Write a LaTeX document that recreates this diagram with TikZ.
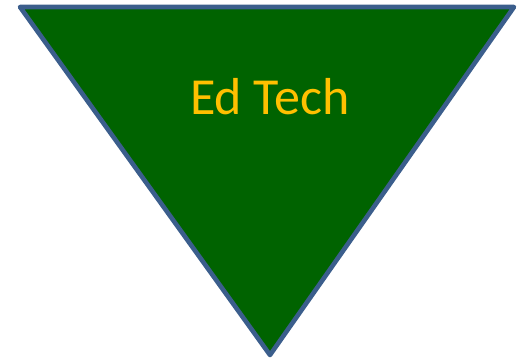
\documentclass[tikz,border=0pt]{standalone}
\usepackage{fontspec}
\setmainfont{Carlito}
\definecolor{tribg}{RGB}{0,99,0}
\definecolor{triedge}{RGB}{59,94,140}
\definecolor{labelgold}{RGB}{255,192,0}
\begin{document}
\begin{tikzpicture}[x=1pt,y=-1pt,
  tri/.style={fill=tribg, draw=triedge, line width=4.6pt, line join=round},
  ]
  %%% fixed frame of the picture %%%
  \useasboundingbox (0,0) rectangle (517,364);

  %%% triangle corners %%%
  \coordinate (tl) at (20,7);
  \coordinate (tr) at (514,7);
  \coordinate (bt) at (270,355);

  %%% inverted triangle %%%
  \draw[tri] (tl) -- (tr) -- (bt) -- cycle;

  %%% label %%%
  \node[text=labelgold, font=\fontsize{52}{56}\selectfont] (edtech) at (270,97) {Ed Tech};
\end{tikzpicture}
\end{document}
